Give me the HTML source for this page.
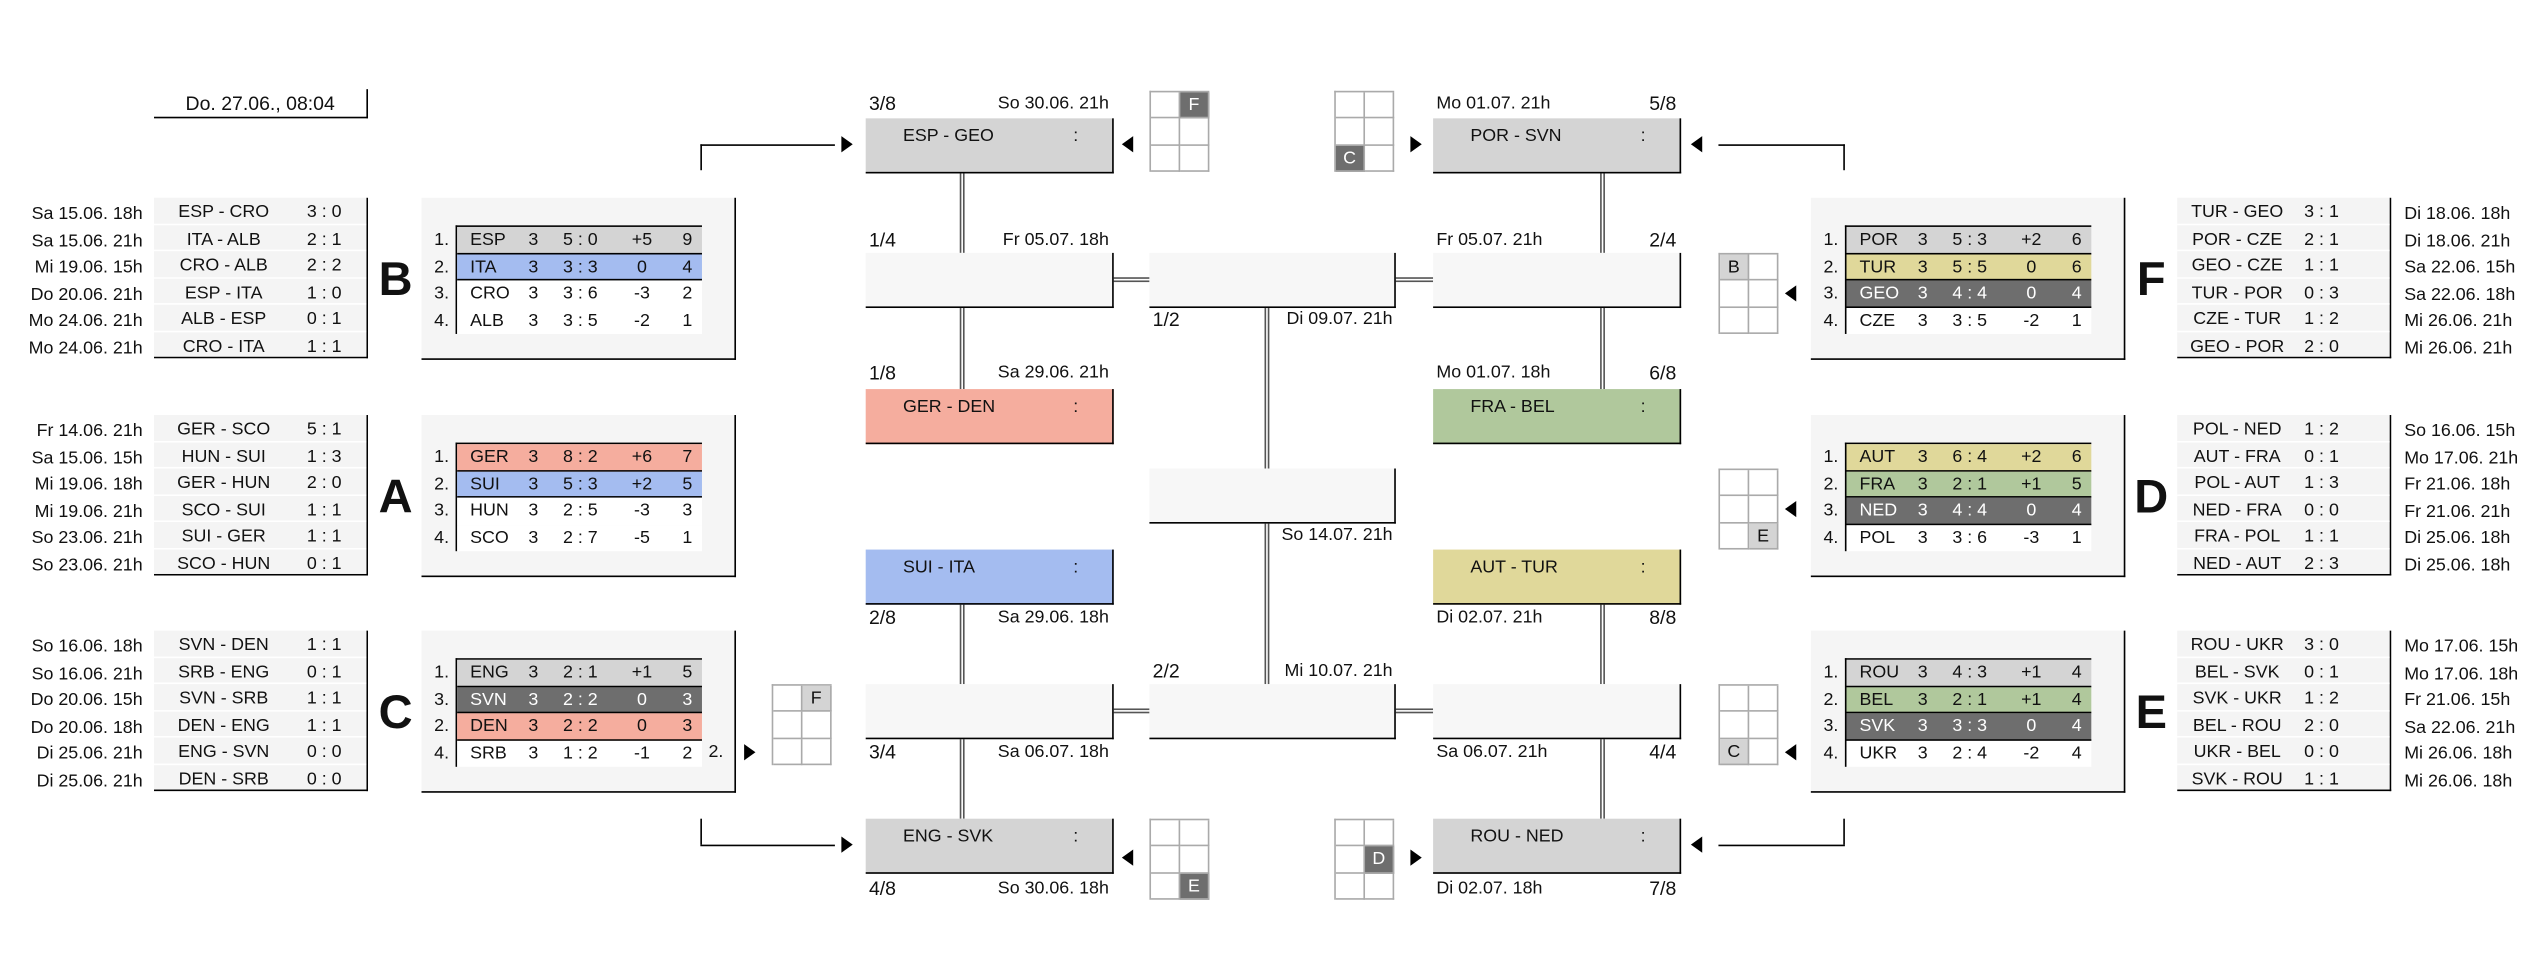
<!DOCTYPE html>
<html><head><meta charset="utf-8">
<style>
html,body{margin:0;padding:0;background:#fff;width:2542px;height:967px;overflow:hidden}
#w{position:absolute;left:0;top:0;width:1568px;height:597px;transform:scale(1.62117);transform-origin:0 0;font:11px "Liberation Sans",sans-serif;color:#111}
.a{position:absolute}
.L{position:absolute;width:131px;border-right:1px solid #000;border-bottom:1px solid #000}
.L div{position:relative;height:15.5px;border-bottom:1px solid #fff;background:#f4f4f4;line-height:18px;overflow:hidden}
.L div:last-child{border-bottom:none}
.L .t{position:absolute;left:0;width:86px;text-align:center}
.L .s{position:absolute;left:88px;width:34px;text-align:center}
.R .t{width:74px}
.R .s{left:76px;width:26px}
.D{position:absolute;width:88px;text-align:right;line-height:16.5px}
.D2{position:absolute;text-align:left;line-height:16.5px}
.P{position:absolute;width:193px;height:99px;background:#f5f5f5;border-right:1px solid #000;border-bottom:1px solid #000}
.T{position:absolute;left:21px;top:17px;width:151px;border-left:1px solid #000;border-top:1px solid #000}
.r{position:relative;height:16.5px;line-height:17.5px;background:#fff;box-sizing:border-box}
.r span{position:absolute}
.r .n{left:8px}.r .g{left:42px;width:10px;text-align:center}.r .d{left:62px;width:28px;text-align:center}.r .f{left:104px;width:20px;text-align:center}.r .p{left:136px;width:12px;text-align:center}
.rk{position:absolute;left:0;top:18px;width:17px;text-align:right;line-height:16.5px}
.gy{background:#d4d4d4;border-bottom:1px solid #000}
.bl{background:#a4bcf0;border-bottom:1px solid #000}
.sa{background:#f5ad9e;border-bottom:1px solid #000}
.gr{background:#b0c89c;border-bottom:1px solid #000}
.ye{background:#e0d89a;border-bottom:1px solid #000}
.dk{background:#6e6e6e;color:#fff;border-bottom:1px solid #000}
.big{position:absolute;width:26px;text-align:center;font-weight:bold;font-size:29px;line-height:30px}
.M{position:absolute;width:152px;height:33px;border-right:1px solid #000;border-bottom:1px solid #000;background:#f7f7f7}
.M .x{position:absolute;left:23px;top:4px;line-height:14px}
.M .c{position:absolute;left:128px;top:4px;line-height:14px}
.lab{position:absolute;width:148px;height:14px;line-height:14px;display:flex;justify-content:space-between}
.fr{font-size:12px}
.vl{position:absolute;width:1px;border-left:1px solid #555;border-right:1px solid #555}
.hl{position:absolute;height:1px;border-top:1px solid #555;border-bottom:1px solid #555}
.G{position:absolute;width:36px;display:grid;grid-template-columns:18px 18px;grid-auto-rows:16.33px;border-top:1px solid #aaa;border-left:1px solid #aaa}
.G div{border-right:1px solid #aaa;border-bottom:1px solid #aaa;box-sizing:border-box;text-align:center;line-height:16px}
.G .k{background:#6e6e6e;color:#fff}
.G .h{background:#d4d4d4}
.ar{position:absolute;width:0;height:0;border-top:5px solid transparent;border-bottom:5px solid transparent}
.ar.R{border-left:7px solid #000}
.ar.Lf{border-right:7px solid #000}
.ln{position:absolute;background:#000}
</style></head><body><div id="w">

<div class="a" style="left:95px;top:55px;width:131px;height:17px;border-right:1px solid #000;border-bottom:1px solid #000;text-align:center;line-height:18px;font-size:12px">Do. 27.06., 08:04</div>

<div class="D" style="left:0;top:124px">Sa 15.06. 18h<br>Sa 15.06. 21h<br>Mi 19.06. 15h<br>Do 20.06. 21h<br>Mo 24.06. 21h<br>Mo 24.06. 21h</div>
<div class="L" style="left:95px;top:122px">
<div><span class="t">ESP - CRO</span><span class="s">3 : 0</span></div>
<div><span class="t">ITA - ALB</span><span class="s">2 : 1</span></div>
<div><span class="t">CRO - ALB</span><span class="s">2 : 2</span></div>
<div><span class="t">ESP - ITA</span><span class="s">1 : 0</span></div>
<div><span class="t">ALB - ESP</span><span class="s">0 : 1</span></div>
<div><span class="t">CRO - ITA</span><span class="s">1 : 1</span></div></div>

<div class="D" style="left:0;top:258px">Fr 14.06. 21h<br>Sa 15.06. 15h<br>Mi 19.06. 18h<br>Mi 19.06. 21h<br>So 23.06. 21h<br>So 23.06. 21h</div>
<div class="L" style="left:95px;top:256px">
<div><span class="t">GER - SCO</span><span class="s">5 : 1</span></div>
<div><span class="t">HUN - SUI</span><span class="s">1 : 3</span></div>
<div><span class="t">GER - HUN</span><span class="s">2 : 0</span></div>
<div><span class="t">SCO - SUI</span><span class="s">1 : 1</span></div>
<div><span class="t">SUI - GER</span><span class="s">1 : 1</span></div>
<div><span class="t">SCO - HUN</span><span class="s">0 : 1</span></div></div>

<div class="D" style="left:0;top:391px">So 16.06. 18h<br>So 16.06. 21h<br>Do 20.06. 15h<br>Do 20.06. 18h<br>Di 25.06. 21h<br>Di 25.06. 21h</div>
<div class="L" style="left:95px;top:389px">
<div><span class="t">SVN - DEN</span><span class="s">1 : 1</span></div>
<div><span class="t">SRB - ENG</span><span class="s">0 : 1</span></div>
<div><span class="t">SVN - SRB</span><span class="s">1 : 1</span></div>
<div><span class="t">DEN - ENG</span><span class="s">1 : 1</span></div>
<div><span class="t">ENG - SVN</span><span class="s">0 : 0</span></div>
<div><span class="t">DEN - SRB</span><span class="s">0 : 0</span></div></div>

<div class="big" style="left:231px;top:158px">B</div>
<div class="big" style="left:231px;top:292px">A</div>
<div class="big" style="left:231px;top:425px">C</div>

<div class="P" style="left:260px;top:122px">
<div class="rk">1.<br>2.<br>3.<br>4.</div>
<div class="T">
<div class="r gy"><span class="n">ESP</span><span class="g">3</span><span class="d">5 : 0</span><span class="f">+5</span><span class="p">9</span></div>
<div class="r bl"><span class="n">ITA</span><span class="g">3</span><span class="d">3 : 3</span><span class="f">0</span><span class="p">4</span></div>
<div class="r"><span class="n">CRO</span><span class="g">3</span><span class="d">3 : 6</span><span class="f">-3</span><span class="p">2</span></div>
<div class="r"><span class="n">ALB</span><span class="g">3</span><span class="d">3 : 5</span><span class="f">-2</span><span class="p">1</span></div></div></div>

<div class="P" style="left:260px;top:256px">
<div class="rk">1.<br>2.<br>3.<br>4.</div>
<div class="T">
<div class="r sa"><span class="n">GER</span><span class="g">3</span><span class="d">8 : 2</span><span class="f">+6</span><span class="p">7</span></div>
<div class="r bl"><span class="n">SUI</span><span class="g">3</span><span class="d">5 : 3</span><span class="f">+2</span><span class="p">5</span></div>
<div class="r"><span class="n">HUN</span><span class="g">3</span><span class="d">2 : 5</span><span class="f">-3</span><span class="p">3</span></div>
<div class="r"><span class="n">SCO</span><span class="g">3</span><span class="d">2 : 7</span><span class="f">-5</span><span class="p">1</span></div></div></div>

<div class="P" style="left:260px;top:389px">
<div class="rk">1.<br>3.<br>2.<br>4.</div>
<div class="T">
<div class="r gy"><span class="n">ENG</span><span class="g">3</span><span class="d">2 : 1</span><span class="f">+1</span><span class="p">5</span></div>
<div class="r dk"><span class="n">SVN</span><span class="g">3</span><span class="d">2 : 2</span><span class="f">0</span><span class="p">3</span></div>
<div class="r sa"><span class="n">DEN</span><span class="g">3</span><span class="d">2 : 2</span><span class="f">0</span><span class="p">3</span></div>
<div class="r"><span class="n">SRB</span><span class="g">3</span><span class="d">1 : 2</span><span class="f">-1</span><span class="p">2</span></div></div></div>

<div class="P" style="left:1117px;top:122px">
<div class="rk">1.<br>2.<br>3.<br>4.</div>
<div class="T">
<div class="r gy"><span class="n">POR</span><span class="g">3</span><span class="d">5 : 3</span><span class="f">+2</span><span class="p">6</span></div>
<div class="r ye"><span class="n">TUR</span><span class="g">3</span><span class="d">5 : 5</span><span class="f">0</span><span class="p">6</span></div>
<div class="r dk"><span class="n">GEO</span><span class="g">3</span><span class="d">4 : 4</span><span class="f">0</span><span class="p">4</span></div>
<div class="r"><span class="n">CZE</span><span class="g">3</span><span class="d">3 : 5</span><span class="f">-2</span><span class="p">1</span></div></div></div>

<div class="P" style="left:1117px;top:256px">
<div class="rk">1.<br>2.<br>3.<br>4.</div>
<div class="T">
<div class="r ye"><span class="n">AUT</span><span class="g">3</span><span class="d">6 : 4</span><span class="f">+2</span><span class="p">6</span></div>
<div class="r gr"><span class="n">FRA</span><span class="g">3</span><span class="d">2 : 1</span><span class="f">+1</span><span class="p">5</span></div>
<div class="r dk"><span class="n">NED</span><span class="g">3</span><span class="d">4 : 4</span><span class="f">0</span><span class="p">4</span></div>
<div class="r"><span class="n">POL</span><span class="g">3</span><span class="d">3 : 6</span><span class="f">-3</span><span class="p">1</span></div></div></div>

<div class="P" style="left:1117px;top:389px">
<div class="rk">1.<br>2.<br>3.<br>4.</div>
<div class="T">
<div class="r gy"><span class="n">ROU</span><span class="g">3</span><span class="d">4 : 3</span><span class="f">+1</span><span class="p">4</span></div>
<div class="r gr"><span class="n">BEL</span><span class="g">3</span><span class="d">2 : 1</span><span class="f">+1</span><span class="p">4</span></div>
<div class="r dk"><span class="n">SVK</span><span class="g">3</span><span class="d">3 : 3</span><span class="f">0</span><span class="p">4</span></div>
<div class="r"><span class="n">UKR</span><span class="g">3</span><span class="d">2 : 4</span><span class="f">-2</span><span class="p">4</span></div></div></div>

<div class="big" style="left:1314px;top:158px">F</div>
<div class="big" style="left:1314px;top:292px">D</div>
<div class="big" style="left:1314px;top:425px">E</div>

<div class="L R" style="left:1343px;top:122px">
<div><span class="t">TUR - GEO</span><span class="s">3 : 1</span></div>
<div><span class="t">POR - CZE</span><span class="s">2 : 1</span></div>
<div><span class="t">GEO - CZE</span><span class="s">1 : 1</span></div>
<div><span class="t">TUR - POR</span><span class="s">0 : 3</span></div>
<div><span class="t">CZE - TUR</span><span class="s">1 : 2</span></div>
<div><span class="t">GEO - POR</span><span class="s">2 : 0</span></div></div>
<div class="D2" style="left:1483px;top:124px">Di 18.06. 18h<br>Di 18.06. 21h<br>Sa 22.06. 15h<br>Sa 22.06. 18h<br>Mi 26.06. 21h<br>Mi 26.06. 21h</div>

<div class="L R" style="left:1343px;top:256px">
<div><span class="t">POL - NED</span><span class="s">1 : 2</span></div>
<div><span class="t">AUT - FRA</span><span class="s">0 : 1</span></div>
<div><span class="t">POL - AUT</span><span class="s">1 : 3</span></div>
<div><span class="t">NED - FRA</span><span class="s">0 : 0</span></div>
<div><span class="t">FRA - POL</span><span class="s">1 : 1</span></div>
<div><span class="t">NED - AUT</span><span class="s">2 : 3</span></div></div>
<div class="D2" style="left:1483px;top:258px">So 16.06. 15h<br>Mo 17.06. 21h<br>Fr 21.06. 18h<br>Fr 21.06. 21h<br>Di 25.06. 18h<br>Di 25.06. 18h</div>

<div class="L R" style="left:1343px;top:389px">
<div><span class="t">ROU - UKR</span><span class="s">3 : 0</span></div>
<div><span class="t">BEL - SVK</span><span class="s">0 : 1</span></div>
<div><span class="t">SVK - UKR</span><span class="s">1 : 2</span></div>
<div><span class="t">BEL - ROU</span><span class="s">2 : 0</span></div>
<div><span class="t">UKR - BEL</span><span class="s">0 : 0</span></div>
<div><span class="t">SVK - ROU</span><span class="s">1 : 1</span></div></div>
<div class="D2" style="left:1483px;top:391px">Mo 17.06. 15h<br>Mo 17.06. 18h<br>Fr 21.06. 15h<br>Sa 22.06. 21h<br>Mi 26.06. 18h<br>Mi 26.06. 18h</div>

<div class="vl" style="left:592px;top:106px;height:50px"></div>
<div class="vl" style="left:592px;top:189px;height:51px"></div>
<div class="vl" style="left:592px;top:372px;height:50px"></div>
<div class="vl" style="left:592px;top:455px;height:50px"></div>
<div class="vl" style="left:987px;top:106px;height:50px"></div>
<div class="vl" style="left:987px;top:189px;height:51px"></div>
<div class="vl" style="left:987px;top:372px;height:50px"></div>
<div class="vl" style="left:987px;top:455px;height:50px"></div>
<div class="vl" style="left:780px;top:189px;height:100px"></div>
<div class="vl" style="left:780px;top:322px;height:100px"></div>
<div class="hl" style="left:686px;top:171px;width:23px"></div>
<div class="hl" style="left:860px;top:171px;width:24px"></div>
<div class="hl" style="left:686px;top:437px;width:23px"></div>
<div class="hl" style="left:860px;top:437px;width:24px"></div>

<div class="M" style="left:534px;top:73px;background:#d4d4d4"><span class="x">ESP - GEO</span><span class="c">:</span></div>
<div class="lab" style="left:536px;top:57px"><span class="fr">3/8</span><span>So 30.06. 21h</span></div>
<div class="M" style="left:534px;top:156px"></div>
<div class="lab" style="left:536px;top:141px"><span class="fr">1/4</span><span>Fr 05.07. 18h</span></div>
<div class="M" style="left:534px;top:240px;background:#f5ad9e"><span class="x">GER - DEN</span><span class="c">:</span></div>
<div class="lab" style="left:536px;top:223px"><span class="fr">1/8</span><span>Sa 29.06. 21h</span></div>
<div class="M" style="left:534px;top:339px;background:#a4bcf0"><span class="x">SUI - ITA</span><span class="c">:</span></div>
<div class="lab" style="left:536px;top:374px"><span class="fr">2/8</span><span>Sa 29.06. 18h</span></div>
<div class="M" style="left:534px;top:422px"></div>
<div class="lab" style="left:536px;top:457px"><span class="fr">3/4</span><span>Sa 06.07. 18h</span></div>
<div class="M" style="left:534px;top:505px;background:#d4d4d4"><span class="x">ENG - SVK</span><span class="c">:</span></div>
<div class="lab" style="left:536px;top:541px"><span class="fr">4/8</span><span>So 30.06. 18h</span></div>

<div class="M" style="left:709px;top:156px;width:151px"></div>
<div class="lab" style="left:711px;top:190px"><span class="fr">1/2</span><span>Di 09.07. 21h</span></div>
<div class="M" style="left:709px;top:289px;width:151px"></div>
<div class="lab" style="left:711px;top:323px"><span></span><span>So 14.07. 21h</span></div>
<div class="M" style="left:709px;top:422px;width:151px"></div>
<div class="lab" style="left:711px;top:407px"><span class="fr">2/2</span><span>Mi 10.07. 21h</span></div>

<div class="M" style="left:884px;top:73px;background:#d4d4d4"><span class="x">POR - SVN</span><span class="c">:</span></div>
<div class="lab" style="left:886px;top:57px"><span>Mo 01.07. 21h</span><span class="fr">5/8</span></div>
<div class="M" style="left:884px;top:156px"></div>
<div class="lab" style="left:886px;top:141px"><span>Fr 05.07. 21h</span><span class="fr">2/4</span></div>
<div class="M" style="left:884px;top:240px;background:#b0c89c"><span class="x">FRA - BEL</span><span class="c">:</span></div>
<div class="lab" style="left:886px;top:223px"><span>Mo 01.07. 18h</span><span class="fr">6/8</span></div>
<div class="M" style="left:884px;top:339px;background:#e0d89a"><span class="x">AUT - TUR</span><span class="c">:</span></div>
<div class="lab" style="left:886px;top:374px"><span>Di 02.07. 21h</span><span class="fr">8/8</span></div>
<div class="M" style="left:884px;top:422px"></div>
<div class="lab" style="left:886px;top:457px"><span>Sa 06.07. 21h</span><span class="fr">4/4</span></div>
<div class="M" style="left:884px;top:505px;background:#d4d4d4"><span class="x">ROU - NED</span><span class="c">:</span></div>
<div class="lab" style="left:886px;top:541px"><span>Di 02.07. 18h</span><span class="fr">7/8</span></div>

<div class="ln" style="left:432px;top:89px;width:1px;height:16px"></div>
<div class="ln" style="left:432px;top:89px;width:83px;height:1px"></div>
<div class="ar R" style="left:519px;top:84px"></div>
<div class="ln" style="left:1137px;top:89px;width:1px;height:16px"></div>
<div class="ln" style="left:1060px;top:89px;width:78px;height:1px"></div>
<div class="ar Lf" style="left:1043px;top:84px"></div>
<div class="ln" style="left:432px;top:505px;width:1px;height:16px"></div>
<div class="ln" style="left:432px;top:521px;width:83px;height:1px"></div>
<div class="ar R" style="left:519px;top:516px"></div>
<div class="ln" style="left:1137px;top:505px;width:1px;height:16px"></div>
<div class="ln" style="left:1060px;top:521px;width:78px;height:1px"></div>
<div class="ar Lf" style="left:1043px;top:516px"></div>

<div class="G" style="left:709px;top:56px"><div></div><div class="k">F</div><div></div><div></div><div></div><div></div></div>
<div class="ar Lf" style="left:692px;top:84px"></div>
<div class="G" style="left:823px;top:56px"><div></div><div></div><div></div><div></div><div class="k">C</div><div></div></div>
<div class="ar R" style="left:870px;top:84px"></div>
<div class="G" style="left:709px;top:505px"><div></div><div></div><div></div><div></div><div></div><div class="k">E</div></div>
<div class="ar Lf" style="left:692px;top:524px"></div>
<div class="G" style="left:823px;top:505px"><div></div><div></div><div></div><div class="k">D</div><div></div><div></div></div>
<div class="ar R" style="left:870px;top:524px"></div>

<div class="a" style="left:437px;top:457px;line-height:14px">2.</div>
<div class="ar R" style="left:459px;top:459px"></div>
<div class="G" style="left:476px;top:422px"><div></div><div class="h">F</div><div></div><div></div><div></div><div></div></div>

<div class="G" style="left:1060px;top:156px"><div class="h">B</div><div></div><div></div><div></div><div></div><div></div></div>
<div class="ar Lf" style="left:1101px;top:176px"></div>
<div class="G" style="left:1060px;top:289px"><div></div><div></div><div></div><div></div><div></div><div class="h">E</div></div>
<div class="ar Lf" style="left:1101px;top:309px"></div>
<div class="G" style="left:1060px;top:422px"><div></div><div></div><div></div><div></div><div class="h">C</div><div></div></div>
<div class="ar Lf" style="left:1101px;top:459px"></div>

</div></body></html>
